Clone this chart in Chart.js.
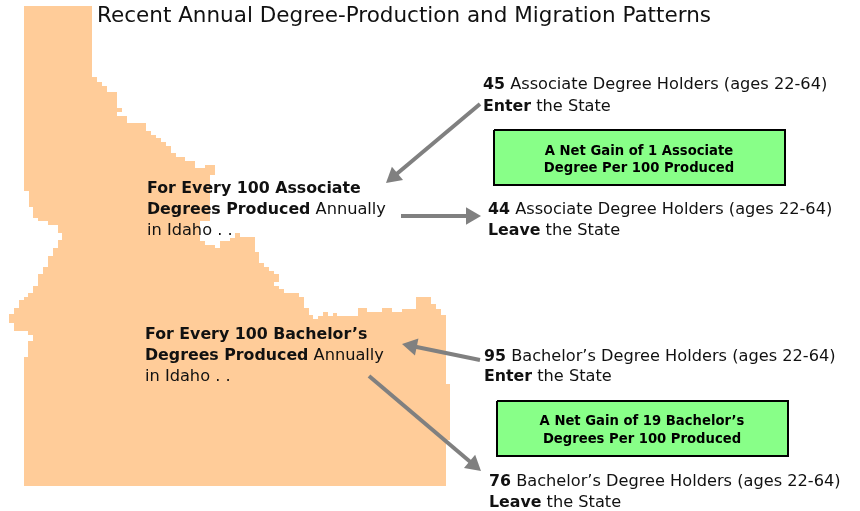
<!DOCTYPE html>
<html>
<head>
<meta charset="utf-8">
<title>Recent Annual Degree-Production and Migration Patterns</title>
<script src="https://cdn.jsdelivr.net/npm/chart.js@4"></script>
<style>
  html, body { margin: 0; padding: 0; background: #ffffff; }
  #wrap { width: 860px; height: 511px; }
</style>
</head>
<body>
<div id="wrap"><canvas id="Migration-Chart" width="860" height="511"></canvas></div>
<script>
const chartTitle = "Recent Annual Degree-Production and Migration Patterns";
const degreeTypes = ["Associate", "Bachelor\u2019s"];
const perProduced = [100, 100];
const enterValues = [45, 95];
const leaveValues = [44, 76];
const netGainValues = [1, 19];
const ageRange = "ages 22-64";

// state outline (clockwise from the top left corner)
const outlineX = [24, 92, 92, 97, 102, 107, 112, 117, 122, 117, 127, 132, 146, 151, 156, 161, 166, 171, 176, 185, 195, 205, 215, 210, 200,
  205, 215, 220, 230, 235, 240, 255, 259, 264, 269, 274, 279, 274, 279, 284, 299, 304, 309, 313, 318, 323, 328, 333, 337, 358, 367, 382, 392, 402, 416, 431, 436, 441, 446, 450, 446,
  24, 28, 33, 28, 14, 9, 14, 19, 24, 28, 33, 38, 43, 48, 53, 58, 62, 58, 48, 38, 33, 29, 24, 24];
const outlineY = [6, 6, 74, 77, 82, 86, 92, 92, 108, 112, 116, 123, 123, 131, 135, 138, 142, 146, 153, 157, 161, 168, 165, 175, 221,
  241, 245, 248, 241, 238, 233, 237, 252, 263, 267, 271, 274, 282, 286, 289, 293, 297, 308, 315, 319, 316, 312, 316, 313, 316, 308, 312, 308, 312, 309, 297, 304, 309, 315, 384, 440,
  486, 357, 341, 335, 331, 323, 314, 308, 300, 297, 293, 286, 274, 267, 256, 248, 240, 233, 225, 221, 218, 207, 191, 6];

// arrows: tail then tip
const arrowTailX = [480, 401, 480, 369];
const arrowTailY = [104, 216, 360, 376];
const arrowTipX = [386, 481, 402, 481];
const arrowTipY = [183, 216, 344, 471];

const boxLeft = [494, 497];
const boxRight = [785, 788];
const boxTop = [130, 401];
const boxBottom = [185, 456];

function boxPoints(i) {
  return [
    {x: boxLeft[i], y: boxTop[i]}, {x: boxRight[i], y: boxTop[i]},
    {x: boxRight[i], y: boxBottom[i]}, {x: boxLeft[i], y: boxBottom[i]},
    {x: boxLeft[i], y: boxTop[i]},
  ];
}

const headSize = 10;
function arrowDatasets(i) {
  const dx = arrowTipX[i] - arrowTailX[i];
  const dy = arrowTipY[i] - arrowTailY[i];
  const len = Math.sqrt(dx * dx + dy * dy);
  return [
    {
      data: [{x: arrowTailX[i], y: arrowTailY[i]}, {x: arrowTipX[i] - dx / len * headSize, y: arrowTipY[i] - dy / len * headSize}],
      borderColor: "#808080", borderWidth: 4, pointRadius: 0, showLine: true, order: 1,
    },
    {
      // triangle marker sits just behind the tip
      data: [{x: arrowTipX[i] - dx / len * headSize, y: arrowTipY[i] - dy / len * headSize}],
      pointStyle: "triangle", pointRadius: headSize, pointRotation: Math.atan2(dx, -dy) * 180 / Math.PI,
      backgroundColor: "#808080", borderColor: "#808080", borderWidth: 0, showLine: false, order: 1,
    },
  ];
}

const datasets = [
  {
    data: outlineX.map((x, i) => ({x: x, y: outlineY[i]})),
    stepped: "after", showLine: true, fill: "shape", pointRadius: 0, borderWidth: 0,
    borderColor: "#FFCC99", backgroundColor: "#FFCC99", order: 5,
  },
];
[0, 1].forEach(i => {
  datasets.push({
    data: boxPoints(i), showLine: true, fill: "shape", pointRadius: 0, borderWidth: 2,
    borderColor: "#000000", backgroundColor: "#88FF88", order: 3,
  });
});
[0, 1, 2, 3].forEach(i => datasets.push(...arrowDatasets(i)));

const regular = '16.2px "DejaVu Sans"';
const bold = 'bold 15.8px "DejaVu Sans"';
const boxFont = 'bold 13.2px "DejaVu Sans"';

function flowRuns(value, i, verb) {
  return [
    [[bold, String(value)], [regular, " " + degreeTypes[i] + " Degree Holders (" + ageRange + ")"]],
    [[bold, verb], [regular, " the State"]],
  ];
}
function everyRuns(i) {
  return [
    [[bold, "For Every " + perProduced[i] + " " + degreeTypes[i]]],
    [[bold, "Degrees Produced"], [regular, " Annually"]],
    [[regular, "in Idaho . ."]],
  ];
}
const netLine1 = i => "A Net Gain of " + netGainValues[i] + " " + degreeTypes[i];
const netLine2 = ["Degree Per " + perProduced[0] + " Produced", "Degrees Per " + perProduced[1] + " Produced"];

const textPlugin = {
  id: "textBlocks",
  afterDatasetsDraw(chart) {
    const ctx = chart.ctx;
    const sx = chart.scales.x, sy = chart.scales.y;
    ctx.save();
    ctx.fillStyle = "#111111";
    ctx.textBaseline = "alphabetic";

    function block(lines, x, baselines) {
      lines.forEach((runs, n) => {
        let px = sx.getPixelForValue(x);
        runs.forEach(r => {
          ctx.font = r[0];
          ctx.textAlign = "left";
          ctx.fillText(r[1], px, sy.getPixelForValue(baselines[n]));
          px += ctx.measureText(r[1]).width;
        });
      });
    }

    ctx.font = '21.5px "DejaVu Sans"';
    ctx.textAlign = "left";
    ctx.fillText(chartTitle, sx.getPixelForValue(97), sy.getPixelForValue(22));

    block(everyRuns(0), 147, [193, 214, 235]);
    block(everyRuns(1), 145, [339, 360, 381]);
    block(flowRuns(enterValues[0], 0, "Enter"), 483, [89, 111]);
    block(flowRuns(leaveValues[0], 0, "Leave"), 488, [214, 235]);
    block(flowRuns(enterValues[1], 1, "Enter"), 484, [361, 381]);
    block(flowRuns(leaveValues[1], 1, "Leave"), 489, [486, 507]);

    ctx.font = boxFont;
    ctx.textAlign = "center";
    ctx.fillStyle = "#000000";
    ctx.fillText(netLine1(0), sx.getPixelForValue(639), sy.getPixelForValue(155));
    ctx.fillText(netLine2[0], sx.getPixelForValue(639), sy.getPixelForValue(172));
    ctx.fillText(netLine1(1), sx.getPixelForValue(642), sy.getPixelForValue(425));
    ctx.fillText(netLine2[1], sx.getPixelForValue(642), sy.getPixelForValue(443));
    ctx.restore();
  },
};

const config = {
  type: "scatter",
  data: {datasets: datasets},
  plugins: [textPlugin],
  options: {
    responsive: false,
    animation: false,
    layout: {padding: 0, autoPadding: false},
    plugins: {legend: {display: false}, tooltip: {enabled: false}, title: {display: false}},
    scales: {
      x: {type: "linear", min: 0, max: 860, display: false},
      y: {type: "linear", min: 0, max: 511, reverse: true, display: false},
    },
  },
};

new Chart(document.getElementById("Migration-Chart"), config);
</script>
</body>
</html>
